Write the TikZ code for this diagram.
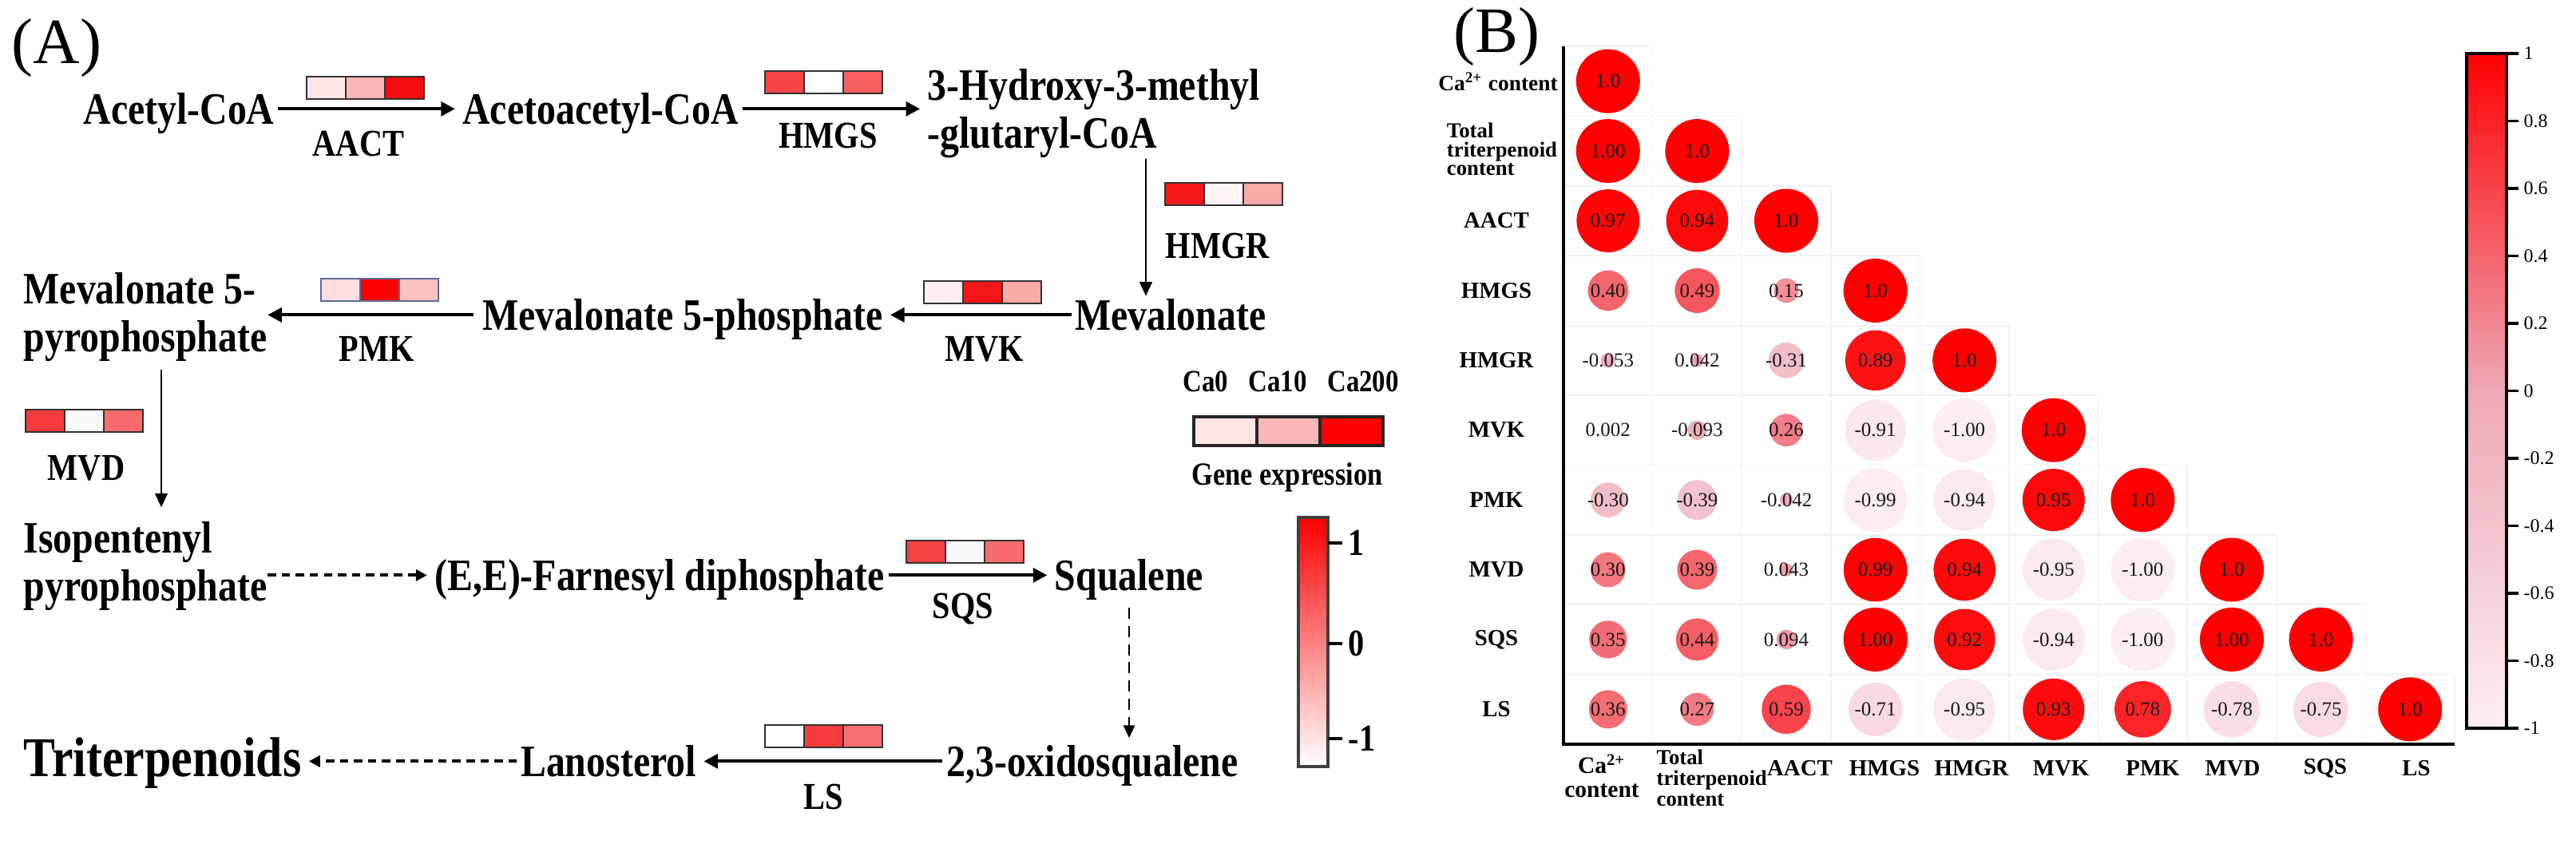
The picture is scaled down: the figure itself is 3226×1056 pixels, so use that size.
\documentclass[tikz,border=0pt]{standalone}
\usepackage{fontspec}
\setmainfont{Liberation Serif}
\newfontfamily\condfont[FakeStretch=0.85]{Liberation Serif}
\usetikzlibrary{arrows.meta, calc}
\definecolor{hm}{RGB}{245,12,14}
\definecolor{cpos}{RGB}{255,0,0}
\definecolor{cmid}{RGB}{238,168,182}
\definecolor{cneg}{RGB}{252,238,240}
\definecolor{barmid}{RGB}{240,158,163}
\definecolor{pmkedge}{RGB}{90,106,154}
\tikzset{
    cmpd/.style={font=\condfont\bfseries\fontsize{16}{17}\selectfont, inner sep=0pt, text height=10.6pt, text depth=0pt, anchor=base},
    cmpdtwo/.style={font=\condfont\bfseries\fontsize{16}{17}\selectfont, inner sep=0pt, align=left, anchor=north west},
    enz/.style={font=\condfont\bfseries\fontsize{13.5}{15}\selectfont, inner sep=0pt},
    rxn/.style={-{Triangle[length=5pt,width=5pt]}, line width=1.2pt, shorten <=1.2pt, shorten >=2.5pt},
    rxnv/.style={-{Triangle[length=5pt,width=4.4pt]}, line width=0.75pt},
    rxnd/.style={-{Triangle[length=4pt,width=4pt]}, line width=1.1pt, dash pattern=on 3pt off 2pt, shorten <=1.2pt, shorten >=2.5pt},
    rxndv/.style={-{Triangle[length=4.5pt,width=4pt]}, line width=0.7pt, dash pattern=on 4pt off 2.5pt},
    panel/.style={font=\fontsize{23}{25}\selectfont, inner sep=0pt},
    lgd/.style={font=\condfont\bfseries\fontsize{11}{12}\selectfont, inner sep=0pt},
    cbA/.style={font=\condfont\bfseries\fontsize{13.5}{15}\selectfont, inner sep=0pt, anchor=west},
    lab/.style={font=\bfseries\fontsize{8.2}{8.5}\selectfont, inner sep=0pt},
    num/.style={font=\fontsize{7.1}{8}\selectfont, inner sep=0pt, text=black!90},
    cbB/.style={font=\fontsize{6.8}{8}\selectfont, inner sep=0pt, anchor=west},
    gridcell/.style={draw=black!5, line width=0.5pt}
}
\newcommand{\genebox}[6][black!80]{%
    \coordinate (#2) at #3;
    \foreach \cc [count=\k from 0] in {#4,#5,#6}
        \filldraw[fill=\cc, draw=#1, line width=0.8pt] ($(#2)+(\k*49,0)$) rectangle ++(49,28);
}

\begin{document}
\begin{tikzpicture}[x=0.01cm, y=-0.01cm]
    \useasboundingbox (0,0) rectangle (3226,1056);

    % (A) pathway
    \node[panel, anchor=west] (pa) at (14,60) {(A)};
    \node[cmpd] (acc) at (224,155) {Acetyl-CoA};
    \node[cmpd] (aac) at (752,155) {Acetoacetyl-CoA};
    \node[cmpdtwo] (hmg) at (1161,86) {3-Hydroxy-3-methyl\\-glutaryl-CoA};
    \node[cmpd] (mev) at (1466,413) {Mevalonate};
    \node[cmpd] (mfp) at (855,413) {Mevalonate 5-phosphate};
    \node[cmpdtwo] (mpp) at (29,341) {Mevalonate 5-\\pyrophosphate};
    \node[cmpdtwo] (ipp) at (29,653) {Isopentenyl\\pyrophosphate};
    \node[cmpd] (fpp) at (826,739) {(E,E)-Farnesyl diphosphate};
    \node[cmpd] (sq) at (1414,739) {Squalene};
    \node[cmpd] (oxi) at (1368,972) {2,3-oxidosqualene};
    \node[cmpd] (lan) at (762,972) {Lanosterol};
    \node[cmpd, anchor=base west, font=\condfont\bfseries\fontsize{20}{22}\selectfont] (trit) at (29,972) {Triterpenoids};
    \coordinate (hmgrx) at (1435,0);
    \coordinate (mvdx) at (202,0);

    \draw[rxn] (acc.east) -- (aac.west);
    \draw[rxn] (aac.east) -- (hmg.west |- aac.east);
    \draw[rxnv, shorten >=1.2pt] (hmg.south -| hmgrx) -- (mev.north -| hmgrx);
    \draw[rxn] (mev.west) -- (mfp.east);
    \draw[rxn, shorten <=3pt, shorten >=0pt] (mfp.west) -- (mfp.west -| mpp.east);
    \draw[rxnv, shorten <=2.8pt, shorten >=5pt] (mpp.south -| mvdx) -- (ipp.north -| mvdx);
    \draw[rxnd, shorten <=0pt] (ipp.east |- fpp.west) -- (fpp.west);
    \draw[rxn] (fpp.east) -- (sq.west);
    \draw[rxndv, shorten <=6pt, shorten >=2.8pt] (sq.south) -- (sq.south |- oxi.north);
    \draw[rxn] (oxi.west) -- (lan.east);
    \draw[rxnd] (lan.west) -- (trit.east |- lan.west);

    \genebox{gaact}{(384,96)}{hm!11!white}{hm!30!white}{hm}
    \genebox{ghmgs}{(958,89)}{hm!77!white}{white}{hm!66!white}
    \genebox{ghmgr}{(1459,229)}{hm!96!white}{hm!5!white}{hm!36!white}
    \genebox{gmvk}{(1157,352)}{hm!7!white}{hm!96!white}{hm!36!white}
    \genebox[pmkedge]{gpmk}{(402,349)}{hm!13!white}{red}{hm!25!white}
    \genebox{gmvd}{(32,513)}{hm!81!white}{white!98!black}{hm!61!white}
    \genebox{gsqs}{(1135,677)}{hm!78!white}{white!98!black}{hm!61!white}
    \genebox{gls}{(958,908)}{white}{hm!81!white}{hm!59!white}

    \node[enz] (aact) at (449,180) {AACT};
    \node[enz] (hmgs) at (1037,170) {HMGS};
    \node[enz, anchor=west] (hmgr) at (1459,308) {HMGR};
    \node[enz] (mvk) at (1233,437) {MVK};
    \node[enz] (pmk) at (472,437) {PMK};
    \node[enz] (mvd) at (108,586) {MVD};
    \node[enz] (sqs) at (1206,763) {SQS};
    \node[enz] (ls) at (1031,998) {LS};

    % legend of (A)
    \node[lgd] (ca0) at (1510,478) {Ca0};
    \node[lgd] (ca10) at (1600,478) {Ca10};
    \node[lgd] (ca200) at (1707,478) {Ca200};
    \foreach \cc [count=\k from 0] in {hm!11!white, hm!30!white, red}
        \filldraw[fill=\cc, draw=black!85, line width=1pt] (1495+79*\k,522) rectangle ++(79,36);
    \node[lgd, font=\condfont\bfseries\fontsize{11.5}{13}\selectfont] (gex) at (1612,598) {Gene expression};
    \shade[top color=red, middle color=barmid, bottom color=white] (1626,648) rectangle (1663,960);
    \draw[line width=0.9pt, draw=black!75] (1626,648) rectangle (1663,960);
    \foreach \t/\ty in {1/680, 0/806, -1/925} {
        \draw[line width=1pt] (1663,\ty) -- (1681,\ty);
        \node[cbA] (ta\t) at (1688,\ty) {\t};
    }

    % (B) correlation matrix
    \node[panel, anchor=west] (pb) at (1820,46) {(B)};
    \foreach \row [count=\i from 0] in {
        {1.0},
        {1.00,1.0},
        {0.97,0.94,1.0},
        {0.40,0.49,0.15,1.0},
        {-0.053,0.042,-0.31,0.89,1.0},
        {0.002,-0.093,0.26,-0.91,-1.00,1.0},
        {-0.30,-0.39,-0.042,-0.99,-0.94,0.95,1.0},
        {0.30,0.39,0.043,0.99,0.94,-0.95,-1.00,1.0},
        {0.35,0.44,0.094,1.00,0.92,-0.94,-1.00,1.00,1.0},
        {0.36,0.27,0.59,-0.71,-0.95,0.93,0.78,-0.78,-0.75,1.0}} {
        \foreach \v [count=\j from 0] in \row {
            \pgfmathsetmacro\cx{2013.8+111.6*\j}
            \pgfmathsetmacro\cy{101.7+87.4*\i}
            \pgfmathsetmacro\rad{0.4*sqrt(abs(\v))}
            \pgfmathtruncatemacro\pct{round(abs(\v)*100)}
            \ifdim \v pt<0pt \edef\cc{cneg!\pct!cmid}\else\edef\cc{cpos!\pct!cmid}\fi
            \draw[gridcell] (\cx-55.8,\cy-43.7) rectangle ++(111.6,87.4);
            \fill[fill=\cc] (\cx,\cy) circle[radius=\rad cm];
            \node[num] (c-\i-\j) at (\cx,\cy) {\v};
        }
    }
    \draw[line width=1.1pt] (1958,58) -- (1958,932) -- (3074,932);

    \node[lab, font=\bfseries\fontsize{7.8}{8.5}\selectfont] (r0) at (1876,102) {Ca\textsuperscript{2+} content};
    \node[lab, align=left, font=\bfseries\fontsize{7.6}{6.6}\selectfont] (r1) at (1881,187) {Total\\triterpenoid\\content};
    \foreach \lab [count=\i from 2] in {AACT,HMGS,HMGR,MVK,PMK,MVD,SQS,LS}
        \node[lab] (r\i) at (1874,101.7+87.4*\i) {\lab};

    \node[lab, align=center, font=\bfseries\fontsize{8.4}{8.6}\selectfont] (b0) at (2006,972) {Ca\textsuperscript{2+}\\content};
    \node[lab, align=left, anchor=west, font=\bfseries\fontsize{7.6}{7.4}\selectfont] (b1) at (2074,974) {Total\\triterpenoid\\content};
    \foreach \lab/\bx [count=\i from 2] in {AACT/2254,HMGS/2360,HMGR/2469,MVK/2581,PMK/2696,MVD/2796,SQS/2912,LS/3026}
        \node[lab] (b\i) at (\bx,962) {\lab};

    \shade[top color=cpos, bottom color=cmid] (3089,67) rectangle (3139,489.5);
    \shade[top color=cmid, bottom color=cneg] (3089,489.5) rectangle (3139,912);
    \draw[line width=0.9pt] (3089,67) rectangle (3139,912);
    \foreach \t [count=\k from 0] in {1,0.8,0.6,0.4,0.2,0,-0.2,-0.4,-0.6,-0.8,-1} {
        \draw[line width=0.9pt] (3139,67+84.5*\k) -- (3154,67+84.5*\k);
        \node[cbB] (tb\k) at (3160,67+84.5*\k) {\t};
    }
\end{tikzpicture}
\end{document}
